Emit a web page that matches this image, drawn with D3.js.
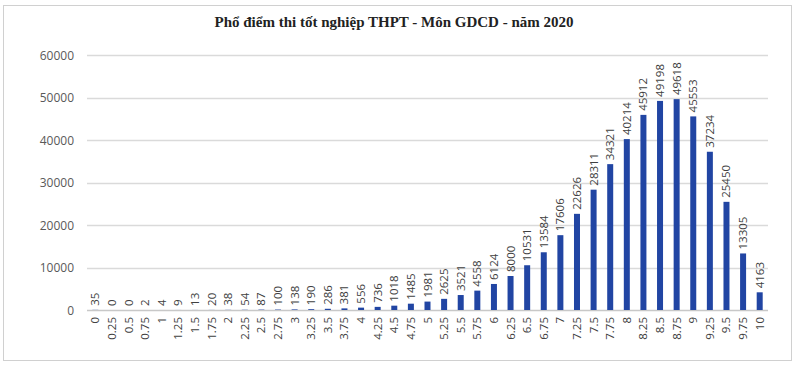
<!DOCTYPE html>
<html>
<head>
<meta charset="utf-8">
<script src="https://cdn.jsdelivr.net/npm/d3@7"></script>
<style>
	body { margin: 0; background: #fff; }
	text { font-family: "Open Sans", "Liberation Sans", sans-serif; }
</style>
</head>
<body>
<div id="chart"></div>
<script>
const dest		= '#chart';

const categories	= ['0','0.25','0.5','0.75','1','1.25','1.5','1.75','2','2.25','2.5','2.75','3','3.25','3.5','3.75','4','4.25','4.5','4.75','5','5.25','5.5','5.75','6','6.25','6.5','6.75','7','7.25','7.5','7.75','8','8.25','8.5','8.75','9','9.25','9.5','9.75','10'];
const counts		= [35,0,0,2,4,9,13,20,38,54,87,100,138,190,286,381,556,736,1018,1485,1981,2625,3521,4558,6124,8000,10531,13584,17606,22626,28311,34321,40214,45912,49198,49618,45553,37234,25450,13305,4163];
const yTicks		= [0,10000,20000,30000,40000,50000,60000];
const title			= 'Phổ điểm thi tốt nghiệp THPT - Môn GDCD - năm 2020';

let width	= 800;
let height	= 367;
let margin	= { top: 55, right: 32, bottom: 57, left: 87 };

let svg = d3.select(dest).append('svg')
	.attr('width', width)
	.attr('height', height);

// chart frame
svg.append('rect')
	.attr('x', 3.5).attr('y', 5.5)
	.attr('width', 788).attr('height', 355)
	.attr('fill', 'none')
	.attr('stroke', '#d0d0d0');

svg.append('text')
	.attr('x', 394).attr('y', 27)
	.attr('text-anchor', 'middle')
	.style('font-family', '"Liberation Serif", "Times New Roman", serif')
	.style('font-weight', 'bold')
	.style('font-size', '15px')
	.attr('fill', '#222')
	.text(title);

let x = d3.scaleBand().range([margin.left, width - margin.right]).domain(categories).padding(0);
let y = d3.scaleLinear().range([height - margin.bottom, margin.top]).domain([0, 60000]);

let g = svg.append('g');

g.append('g')
	.selectAll('line')
	.data(yTicks)
	.enter().append('line')
		.attr('x1', margin.left)
		.attr('x2', width - margin.right)
		.attr('y1', (o) => Math.round(y(o)) + 0.5)
		.attr('y2', (o) => Math.round(y(o)) + 0.5)
		.attr('stroke', (o) => o == 0 ? '#c8c8c8' : '#dadada')
		.attr('stroke-width', 1.5);

g.append('g')
	.selectAll('text')
	.data(yTicks)
	.enter().append('text')
		.attr('x', 74)
		.attr('y', (o) => y(o) + 4.5)
		.attr('text-anchor', 'end')
		.style('font-size', '12px')
		.attr('fill', '#595959')
		.text((o) => o);

let bw = 6;
g.append('g')
	.selectAll('rect')
	.data(counts)
	.enter().append('rect')
		.attr('x', (o, i) => x(categories[i]) + x.bandwidth() / 2 - bw / 2)
		.attr('y', (o) => y(o))
		.attr('width', bw)
		.attr('height', (o) => y(0) - y(o))
		.attr('fill', '#2145a3');

// value labels
g.append('g')
	.selectAll('text')
	.data(counts)
	.enter().append('text')
		.attr('transform', (o, i) => 'translate(' + (x(categories[i]) + x.bandwidth() / 2 + 4) + ',' + (y(o) - 4) + ') rotate(-90)')
		.attr('text-anchor', 'start')
		.style('font-size', '11.5px')
		.attr('fill', '#404040')
		.text((o) => o);

// category labels
g.append('g')
	.selectAll('text')
	.data(categories)
	.enter().append('text')
		.attr('transform', (o) => 'translate(' + (x(o) + x.bandwidth() / 2 + 4) + ',' + (y(0) + 7) + ') rotate(-90)')
		.attr('text-anchor', 'end')
		.style('font-size', '11.5px')
		.attr('fill', '#404040')
		.text((o) => o);
</script>
</body>
</html>
